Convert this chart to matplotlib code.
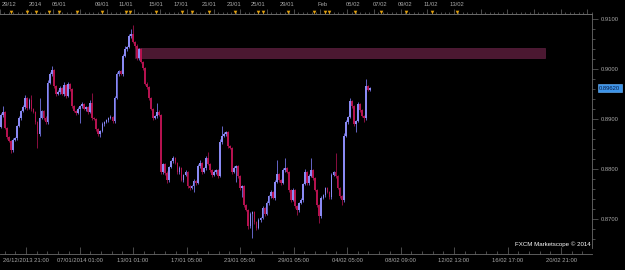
import numpy as np
import matplotlib
matplotlib.use('Agg')
import matplotlib.pyplot as plt
import matplotlib.transforms as mtrans
from matplotlib.patches import Rectangle
from matplotlib.ticker import FixedLocator, MultipleLocator, FormatStrFormatter, NullFormatter

# EUR/GBP-ish H4 candles
first_open = 0.8884
closes = [
    0.8908, 0.8914, 0.8882, 0.8864, 0.8856, 0.8838, 0.8858, 0.8862, 0.8886, 0.8902,
    0.8916, 0.8924, 0.8942, 0.8922, 0.8938, 0.8920, 0.8914, 0.8894, 0.8870, 0.8902,
    0.8916, 0.8902, 0.8894, 0.8972, 0.8990, 0.8998, 0.8966, 0.8950, 0.8954, 0.8962,
    0.8950, 0.8968, 0.8946, 0.8970, 0.8960, 0.8926, 0.8916, 0.8912, 0.8920, 0.8926,
    0.8930, 0.8920, 0.8924, 0.8914, 0.8932, 0.8902, 0.8900, 0.8880, 0.8870, 0.8876,
    0.8890, 0.8894, 0.8898, 0.8902, 0.8904, 0.8896, 0.8942, 0.8990, 0.8996, 0.8990,
    0.9026, 0.9040, 0.9044, 0.9066, 0.9070, 0.9054, 0.9046, 0.9022, 0.9040, 0.9014,
    0.9002, 0.8970, 0.8964, 0.8942, 0.8920, 0.8902, 0.8906, 0.8914, 0.8908, 0.8794,
    0.8810, 0.8792, 0.8778, 0.8804, 0.8816, 0.8822, 0.8812, 0.8794, 0.8802, 0.8778,
    0.8788, 0.8794, 0.8766, 0.8762, 0.8766, 0.8776, 0.8772, 0.8806, 0.8812, 0.8794,
    0.8802, 0.8822, 0.8810, 0.8798, 0.8788, 0.8794, 0.8798, 0.8786, 0.8854, 0.8866,
    0.8870, 0.8874, 0.8846, 0.8842, 0.8794, 0.8802, 0.8806, 0.8786, 0.8762, 0.8766,
    0.8728, 0.8718, 0.8686, 0.8710, 0.8714, 0.8694, 0.8682, 0.8698, 0.8702, 0.8722,
    0.8710, 0.8732, 0.8746, 0.8754, 0.8742, 0.8774, 0.8790, 0.8778, 0.8772, 0.8798,
    0.8802, 0.8794, 0.8758, 0.8738, 0.8758, 0.8726, 0.8718, 0.8732, 0.8738, 0.8770,
    0.8794, 0.8772, 0.8786, 0.8798, 0.8782, 0.8758, 0.8728, 0.8706, 0.8742, 0.8748,
    0.8762, 0.8754, 0.8744, 0.8788, 0.8794, 0.8786, 0.8762, 0.8746, 0.8738, 0.8866,
    0.8894, 0.8904, 0.8936, 0.8926, 0.8890, 0.8896, 0.8930, 0.8918, 0.8906, 0.8902,
    0.8966, 0.8958, 0.8962,
]
# wick lengths in pips
wick_up = [
    4, 12, 3, 2, 3, 2, 4, 3, 2, 5,
    3, 4, 6, 3, 4, 10, 2, 3, 2, 40,
    3, 2, 4, 6, 4, 8, 3, 2, 5, 4,
    3, 6, 2, 4, 3, 2, 3, 2, 4, 3,
    5, 2, 3, 2, 6, 20, 3, 2, 2, 3,
    4, 2, 3, 2, 4, 3, 5, 4, 3, 2,
    4, 6, 3, 5, 10, 18, 3, 4, 2, 3,
    2, 3, 4, 2, 3, 2, 3, 18, 4, 2,
    3, 2, 4, 3, 2, 4, 3, 2, 4, 3,
    3, 4, 2, 3, 2, 4, 3, 5, 6, 2,
    3, 4, 12, 2, 3, 4, 3, 2, 6, 20,
    4, 3, 2, 3, 2, 4, 3, 2, 3, 2,
    3, 2, 2, 4, 3, 2, 3, 4, 3, 5,
    2, 4, 3, 4, 2, 5, 28, 3, 2, 4,
    20, 3, 2, 3, 4, 2, 3, 2, 4, 3,
    6, 2, 4, 24, 3, 2, 3, 2, 4, 3,
    3, 2, 3, 4, 3, 38, 2, 3, 2, 6,
    4, 3, 6, 2, 3, 2, 4, 2, 3, 2,
    14, 3, 2,
]
wick_dn = [
    2, 3, 2, 3, 2, 6, 3, 2, 3, 2,
    3, 2, 4, 3, 2, 3, 2, 3, 28, 3,
    2, 3, 4, 3, 2, 3, 4, 3, 2, 3,
    2, 3, 4, 2, 3, 4, 2, 3, 2, 28,
    3, 2, 4, 3, 2, 3, 2, 4, 3, 6,
    2, 3, 2, 3, 2, 4, 3, 2, 3, 2,
    3, 2, 3, 2, 3, 2, 3, 4, 3, 2,
    3, 2, 4, 3, 2, 3, 2, 3, 2, 4,
    3, 4, 6, 3, 2, 3, 2, 4, 3, 2,
    3, 2, 4, 3, 2, 12, 3, 2, 3, 4,
    2, 3, 2, 4, 3, 2, 3, 4, 2, 3,
    2, 3, 4, 2, 3, 2, 28, 3, 4, 18,
    3, 2, 6, 3, 48, 3, 4, 2, 3, 2,
    3, 2, 4, 3, 2, 3, 2, 4, 3, 2,
    3, 2, 4, 3, 2, 3, 10, 3, 2, 4,
    2, 3, 4, 2, 3, 2, 4, 14, 3, 2,
    3, 2, 4, 3, 2, 3, 2, 4, 10, 3,
    2, 3, 2, 4, 3, 16, 2, 3, 2, 8,
    3, 2, 2,
]

top_labels = ['29/12', '2014', '05/01', '09/01', '11/01', '15/01', '17/01', '21/01',
              '23/01', '25/01', '29/01', 'Feb', '05/02', '07/02', '09/02', '11/02', '13/02']
bottom_labels = ['26/12/2013 21:00', '07/01/2014 01:00', '13/01 01:00', '17/01 05:00',
                 '23/01 05:00', '29/01 05:00', '04/02 05:00', '08/02 09:00',
                 '12/02 13:00', '16/02 17:00', '20/02 21:00']
last_price = 0.8962
zone_low, zone_high = 0.9022, 0.9042

BLUE = '#8a8af4'
RED = '#b5124f'
GRID = '#6a6a6a'
TXT = '#a8a8a8'

# layout: screen px -> bar index (2.03 px per bar)
BAR_PX = 369 / 182
def px2bar(px):
    return (px - 1) / BAR_PX

closes = np.array(closes)
opens = np.r_[first_open, closes[:-1]]
highs = np.maximum(opens, closes) + np.array(wick_up) * 0.0001
lows = np.minimum(opens, closes) - np.array(wick_dn) * 0.0001
x = np.arange(len(closes))
bull = closes >= opens
body_col = np.where(bull, BLUE, RED)
wick_col = np.where(bull, '#7474e6', '#a0104a')

plt.rcParams['font.family'] = ['Liberation Sans', 'DejaVu Sans']
fig = plt.figure(figsize=(6.25, 2.7), dpi=100, facecolor='black')
ax = fig.add_axes([0, 22 / 270, 592 / 625, 234 / 270], facecolor='black')

ax.add_patch(Rectangle((px2bar(135), zone_low), px2bar(545) - px2bar(135), zone_high - zone_low,
                       facecolor='#4b1831', edgecolor='#5c2040', lw=0.5, zorder=1))
ax.vlines(x, lows, highs, colors=wick_col, lw=0.6, zorder=2)
ax.bar(x, np.maximum(np.abs(closes - opens), 0.00015), bottom=np.minimum(opens, closes),
       width=0.85, color=body_col, lw=0, zorder=3)

ax.set_xlim(px2bar(0), px2bar(592))
ax.set_ylim(0.8642, 0.9110)

ax.spines['left'].set_visible(False)
for s in ['top', 'right', 'bottom']:
    ax.spines[s].set_color(GRID)
    ax.spines[s].set_linewidth(0.6)
ax.spines['bottom'].set_position(('outward', 4))

# price scale on the right
ax.yaxis.tick_right()
ax.yaxis.set_major_locator(MultipleLocator(0.01))
ax.yaxis.set_minor_locator(MultipleLocator(0.002))
ax.yaxis.set_major_formatter(FormatStrFormatter('%.4f'))
ax.tick_params(axis='y', which='major', length=4, width=0.5, color=GRID,
               labelsize=4.2, labelcolor=TXT, pad=2)
ax.tick_params(axis='y', which='minor', length=2, width=0.5, color=GRID)

# bottom time ruler
bot_px = [26 + 53.5 * i for i in range(len(bottom_labels))]
ax.xaxis.set_major_locator(FixedLocator([px2bar(p) for p in bot_px]))
ax.xaxis.set_minor_locator(FixedLocator([px2bar(p) for p in np.arange(26 - 53.5, 600, 10.7)]))
ax.set_xticklabels(bottom_labels)
ax.tick_params(axis='x', which='major', direction='in', length=5, width=0.5, color=GRID,
               labelsize=4.2, labelcolor=TXT, pad=3)
ax.tick_params(axis='x', which='minor', direction='in', length=2.5, width=0.5, color=GRID)

# top ruler + date labels
ruler = ax.secondary_xaxis('top')
ruler.xaxis.set_major_locator(FixedLocator([px2bar(p) for p in np.arange(0, 592, 26.7)]))
ruler.xaxis.set_minor_locator(FixedLocator([px2bar(p) for p in np.arange(0, 592, 4.45)]))
ruler.xaxis.set_major_formatter(NullFormatter())
ruler.tick_params(which='major', length=3.5, width=0.5, color=GRID)
ruler.tick_params(which='minor', length=1.8, width=0.5, color=GRID)
ruler.spines['top'].set_color(GRID)
ruler.spines['top'].set_linewidth(0.6)

top_px = [9, 35, 59, 102, 126, 156, 181, 209, 234, 258, 287, 323, 353, 380, 405, 431, 457]
dates = ax.secondary_xaxis('top')
dates.set_xticks([px2bar(p) for p in top_px])
dates.set_xticklabels(top_labels)
dates.tick_params(length=0, labelsize=4.2, labelcolor=TXT, pad=5)
dates.spines['top'].set_visible(False)

# event markers along the top ruler
ev_px = [11, 27, 36, 49, 59, 77, 102, 126, 130, 156, 182, 192, 209, 235, 258, 263, 288,
         314, 325, 329, 355, 381, 406, 432, 457]
trans = mtrans.blended_transform_factory(ax.transData, ax.transAxes)
ax.plot([px2bar(p) for p in ev_px], [1.01] * len(ev_px), 'v', color='#e0a010', ms=2.6,
        mew=0, transform=trans, clip_on=False, zorder=5)

# current price tag
ptrans = mtrans.blended_transform_factory(ax.transAxes, ax.transData)
ax.text(1.012, last_price, '%.5f' % last_price, transform=ptrans, ha='left', va='center',
        fontsize=4.2, color='#0a1a40',
        bbox=dict(boxstyle='square,pad=0.25', facecolor='#3d95ea', edgecolor='#70b8ff', lw=0.4))

ax.text(0.998, 0.004, 'FXCM Marketscope \u00a9 2014', transform=ax.transAxes,
        ha='right', va='bottom', fontsize=4.4, color='white')

fig.savefig('out.png', dpi=100, facecolor='black')
